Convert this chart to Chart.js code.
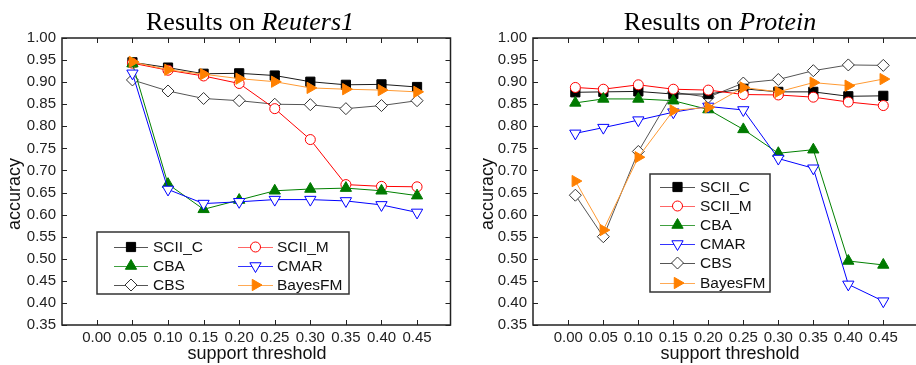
<!DOCTYPE html>
<html>
<head>
<meta charset="utf-8">
<script src="https://cdn.jsdelivr.net/npm/chart.js@4.4.0/dist/chart.umd.min.js"></script>
<style>
	body { margin: 0; background: #fff; width: 916px; height: 365px; overflow: hidden; }
	.pane { position: absolute; top: 0; width: 458px; height: 365px; }
</style>
</head>
<body>
<div class="pane" style="left: 0"><canvas id="reuters" width="458" height="365"></canvas></div>
<div class="pane" style="left: 458px"><canvas id="protein" width="458" height="365"></canvas></div>
<script>
// x / y ticks
const xTickValues = [0, 0.05, 0.10, 0.15, 0.20, 0.25, 0.30, 0.35, 0.40, 0.45];
const xTickLabels = ['0.00', '0.05', '0.10', '0.15', '0.20', '0.25', '0.30', '0.35', '0.40', '0.45'];
const yTickValues = [0.35, 0.40, 0.45, 0.50, 0.55, 0.60, 0.65, 0.70, 0.75, 0.80, 0.85, 0.90, 0.95, 1.00];
const yTickLabels = ['0.35', '0.40', '0.45', '0.50', '0.55', '0.60', '0.65', '0.70', '0.75', '0.80', '0.85', '0.90', '0.95', '1.00'];

const seriesNames = ['SCII_C', 'SCII_M', 'CBA', 'CMAR', 'CBS', 'BayesFM'];

// Reuters1
const reutersThresholds = [0.05, 0.10, 0.15, 0.20, 0.25, 0.30, 0.35, 0.40, 0.45];
const reutersSCIIC   = [0.945, 0.933, 0.919, 0.920, 0.915, 0.901, 0.894, 0.895, 0.889];
const reutersSCIIM   = [0.943, 0.927, 0.914, 0.897, 0.840, 0.770, 0.668, 0.664, 0.663];
const reutersCBA     = [0.942, 0.669, 0.612, 0.633, 0.654, 0.658, 0.660, 0.654, 0.643];
const reutersCMAR    = [0.920, 0.657, 0.625, 0.629, 0.634, 0.634, 0.631, 0.622, 0.605];
const reutersCBS     = [0.905, 0.880, 0.863, 0.858, 0.850, 0.849, 0.840, 0.847, 0.858];
const reutersBayesFM = [0.946, 0.928, 0.918, 0.908, 0.901, 0.887, 0.884, 0.882, 0.878];

// Protein
const proteinThresholds = [0.01, 0.05, 0.10, 0.15, 0.20, 0.25, 0.30, 0.35, 0.40, 0.45];
const proteinSCIIC   = [0.877, 0.878, 0.879, 0.873, 0.873, 0.885, 0.878, 0.878, 0.868, 0.869];
const proteinSCIIM   = [0.888, 0.884, 0.894, 0.884, 0.882, 0.872, 0.871, 0.866, 0.855, 0.847];
const proteinCBA     = [0.853, 0.862, 0.862, 0.858, 0.838, 0.793, 0.739, 0.747, 0.495, 0.486];
const proteinCMAR    = [0.784, 0.797, 0.814, 0.832, 0.845, 0.837, 0.727, 0.705, 0.442, 0.404];
const proteinCBS     = [0.644, 0.550, 0.743, 0.877, 0.866, 0.898, 0.906, 0.926, 0.939, 0.938];
const proteinBayesFM = [0.676, 0.565, 0.730, 0.836, 0.843, 0.888, 0.878, 0.899, 0.892, 0.907];

// marker / line look for each series
const looks = {
	SCII_C:  { line: '#1a1a1a', legendLine: '#555555', fill: '#000000', stroke: '#000000', pointStyle: 'rect', rotation: 0, radius: 6.5, order: 5 },
	SCII_M:  { line: '#ff0000', legendLine: '#ff6666', fill: '#ffffff', stroke: '#ff0000', pointStyle: 'circle', rotation: 0, radius: 5, order: 4 },
	CBA:     { line: '#008000', legendLine: '#40a040', fill: '#007a00', stroke: '#007a00', pointStyle: 'triangle', rotation: 0, radius: 6.5, order: 3 },
	CMAR:    { line: '#0000ff', legendLine: '#3333ff', fill: '#ffffff', stroke: '#0000ff', pointStyle: 'triangle', rotation: 180, radius: 6.5, order: 2 },
	CBS:     { line: '#555555', legendLine: '#555555', fill: '#ffffff', stroke: '#333333', pointStyle: 'rectRot', rotation: 0, radius: 6, order: 6 },
	BayesFM: { line: '#ff9a33', legendLine: '#ffaa55', fill: '#ff8000', stroke: '#ff8000', pointStyle: 'triangle', rotation: 90, radius: 6.5, order: 1 }
};

const SANS = '"Liberation Sans", Arial, sans-serif';
const SERIF = '"Liberation Serif", "Times New Roman", serif';

function toPoints(xs, ys) {
	return xs.map((x, i) => ({ x: x, y: ys[i] }));
}

function makeDeco(cfg) {
	return {
		id: 'paperDeco',
		afterDraw(chart) {
			const ctx = chart.ctx;
			const a = chart.chartArea;
			const xs = chart.scales.x, ys = chart.scales.y;
			ctx.save();

			// frame
			ctx.strokeStyle = '#222';
			ctx.lineWidth = 1.5;
			ctx.beginPath();
			if (cfg.rightBorder) {
				ctx.rect(a.left, a.top, a.right - a.left, a.bottom - a.top);
			} else {
				ctx.moveTo(chart.width, a.top);
				ctx.lineTo(a.left, a.top);
				ctx.lineTo(a.left, a.bottom);
				ctx.lineTo(chart.width, a.bottom);
			}
			ctx.stroke();

			// inward ticks
			ctx.lineWidth = 1;
			ctx.beginPath();
			xTickValues.forEach(v => {
				const px = Math.round(xs.getPixelForValue(v)) + 0.5;
				ctx.moveTo(px, a.top); ctx.lineTo(px, a.top + 5);
				ctx.moveTo(px, a.bottom); ctx.lineTo(px, a.bottom - 5);
			});
			yTickValues.forEach(v => {
				const py = Math.round(ys.getPixelForValue(v)) + 0.5;
				ctx.moveTo(a.left, py); ctx.lineTo(a.left + 5, py);
				if (cfg.rightBorder) { ctx.moveTo(a.right, py); ctx.lineTo(a.right - 5, py); }
			});
			ctx.stroke();

			// title with italic dataset name
			ctx.fillStyle = '#000';
			ctx.textBaseline = 'alphabetic';
			ctx.font = '26px ' + SERIF;
			const w1 = ctx.measureText(cfg.title).width;
			ctx.font = 'italic 26px ' + SERIF;
			const w2 = ctx.measureText(cfg.titleItalic).width;
			let tx = cfg.titleX - (w1 + w2) / 2;
			ctx.font = '26px ' + SERIF;
			ctx.textAlign = 'left';
			ctx.fillText(cfg.title, tx, 30);
			ctx.font = 'italic 26px ' + SERIF;
			ctx.fillText(cfg.titleItalic, tx + w1, 30);

			// axis titles
			ctx.font = '18px ' + SANS;
			ctx.fillStyle = '#111';
			ctx.textAlign = 'center';
			ctx.fillText('support threshold', cfg.xTitleX, 359);
			ctx.save();
			ctx.translate(cfg.yTitleX, 194);
			ctx.rotate(-Math.PI / 2);
			ctx.fillText('accuracy', 0, 0);
			ctx.restore();

			// legend box
			const L = cfg.legend;
			ctx.strokeStyle = '#333';
			ctx.lineWidth = 1.5;
			ctx.fillStyle = '#fff';
			ctx.fillRect(L.box[0], L.box[1], L.box[2] - L.box[0], L.box[3] - L.box[1]);
			ctx.strokeRect(L.box[0], L.box[1], L.box[2] - L.box[0], L.box[3] - L.box[1]);
			ctx.font = '15.5px ' + SANS;
			ctx.textAlign = 'left';
			ctx.textBaseline = 'middle';
			seriesNames.forEach((name, i) => {
				const col = L.cols[i % L.cols.length];
				const y = L.rows[Math.floor(i / L.cols.length)];
				const lk = looks[name];
				ctx.strokeStyle = lk.legendLine;
				ctx.lineWidth = 1;
				ctx.beginPath();
				ctx.moveTo(col[0], y + 0.5); ctx.lineTo(col[1], y + 0.5);
				ctx.stroke();
				if (Chart.helpers && Chart.helpers.drawPoint) {
					ctx.fillStyle = lk.fill;
					ctx.strokeStyle = lk.stroke;
					ctx.lineWidth = 1;
					Chart.helpers.drawPoint(ctx, { pointStyle: lk.pointStyle, rotation: lk.rotation, radius: lk.radius, borderWidth: 1 }, (col[0] + col[1]) / 2, y);
				}
				ctx.fillStyle = '#111';
				ctx.fillText(name, col[2], y + 1);
			});
			ctx.restore();
		}
	};
}

function makeChart(id, xs, values, cfg) {
	const datasets = seriesNames.map((name, i) => {
		const lk = looks[name];
		return {
			label: name,
			data: toPoints(xs, values[i]),
			borderColor: lk.line,
			borderWidth: 1,
			pointStyle: lk.pointStyle,
			rotation: lk.rotation,
			pointRadius: lk.radius,
			pointBackgroundColor: lk.fill,
			pointBorderColor: lk.stroke,
			pointBorderWidth: 1,
			showLine: true,
			fill: false,
			order: lk.order,
			clip: false
		};
	});
	return new Chart(document.getElementById(id), {
		type: 'scatter',
		data: { datasets: datasets },
		options: {
			responsive: false,
			animation: false,
			devicePixelRatio: 1,
			layout: { padding: { top: 38, right: cfg.padRight, left: 0, bottom: 0 } },
			plugins: { legend: { display: false }, tooltip: { enabled: false } },
			scales: {
				x: {
					type: 'linear', min: cfg.xMin, max: cfg.xMax,
					afterBuildTicks: s => { s.ticks = xTickValues.map(v => ({ value: v })); },
					afterFit: s => { s.height = 40; },
					grid: { display: false, drawTicks: false },
					border: { display: false },
					ticks: {
						padding: 4, color: '#222', font: { family: SANS, size: 15 },
						maxRotation: 0, autoSkip: false,
						callback: (v, i) => xTickLabels[i]
					}
				},
				y: {
					type: 'linear', min: 0.35, max: 1.00,
					afterBuildTicks: s => { s.ticks = yTickValues.map(v => ({ value: v })); },
					afterFit: s => { s.width = cfg.yWidth; },
					grid: { display: false, drawTicks: false },
					border: { display: false },
					ticks: {
						padding: 6, color: '#222', font: { family: SANS, size: 15 },
						autoSkip: false,
						callback: (v, i) => yTickLabels[i]
					}
				}
			}
		},
		plugins: [makeDeco(cfg)]
	});
}

makeChart('reuters', reutersThresholds,
	[reutersSCIIC, reutersSCIIM, reutersCBA, reutersCMAR, reutersCBS, reutersBayesFM], {
	xMin: -0.049, xMax: 0.497, yWidth: 62, padRight: 5, rightBorder: true,
	title: 'Results on ', titleItalic: 'Reuters1', titleX: 250,
	xTitleX: 257, yTitleX: 20,
	legend: {
		box: [97, 232, 349, 294],
		cols: [[114, 148, 153], [238, 273, 277]],
		rows: [247, 266, 285]
	}
});

makeChart('protein', proteinThresholds,
	[proteinSCIIC, proteinSCIIM, proteinCBA, proteinCMAR, proteinCBS, proteinBayesFM], {
	xMin: -0.0505, xMax: 0.486, yWidth: 75, padRight: 0, rightBorder: false,
	title: 'Results on ', titleItalic: 'Protein', titleX: 262,
	xTitleX: 272, yTitleX: 35,
	legend: {
		box: [192, 174, 312, 292],
		cols: [[202, 237, 242]],
		rows: [187, 206, 225, 244, 263, 283]
	}
});
</script>
</body>
</html>
